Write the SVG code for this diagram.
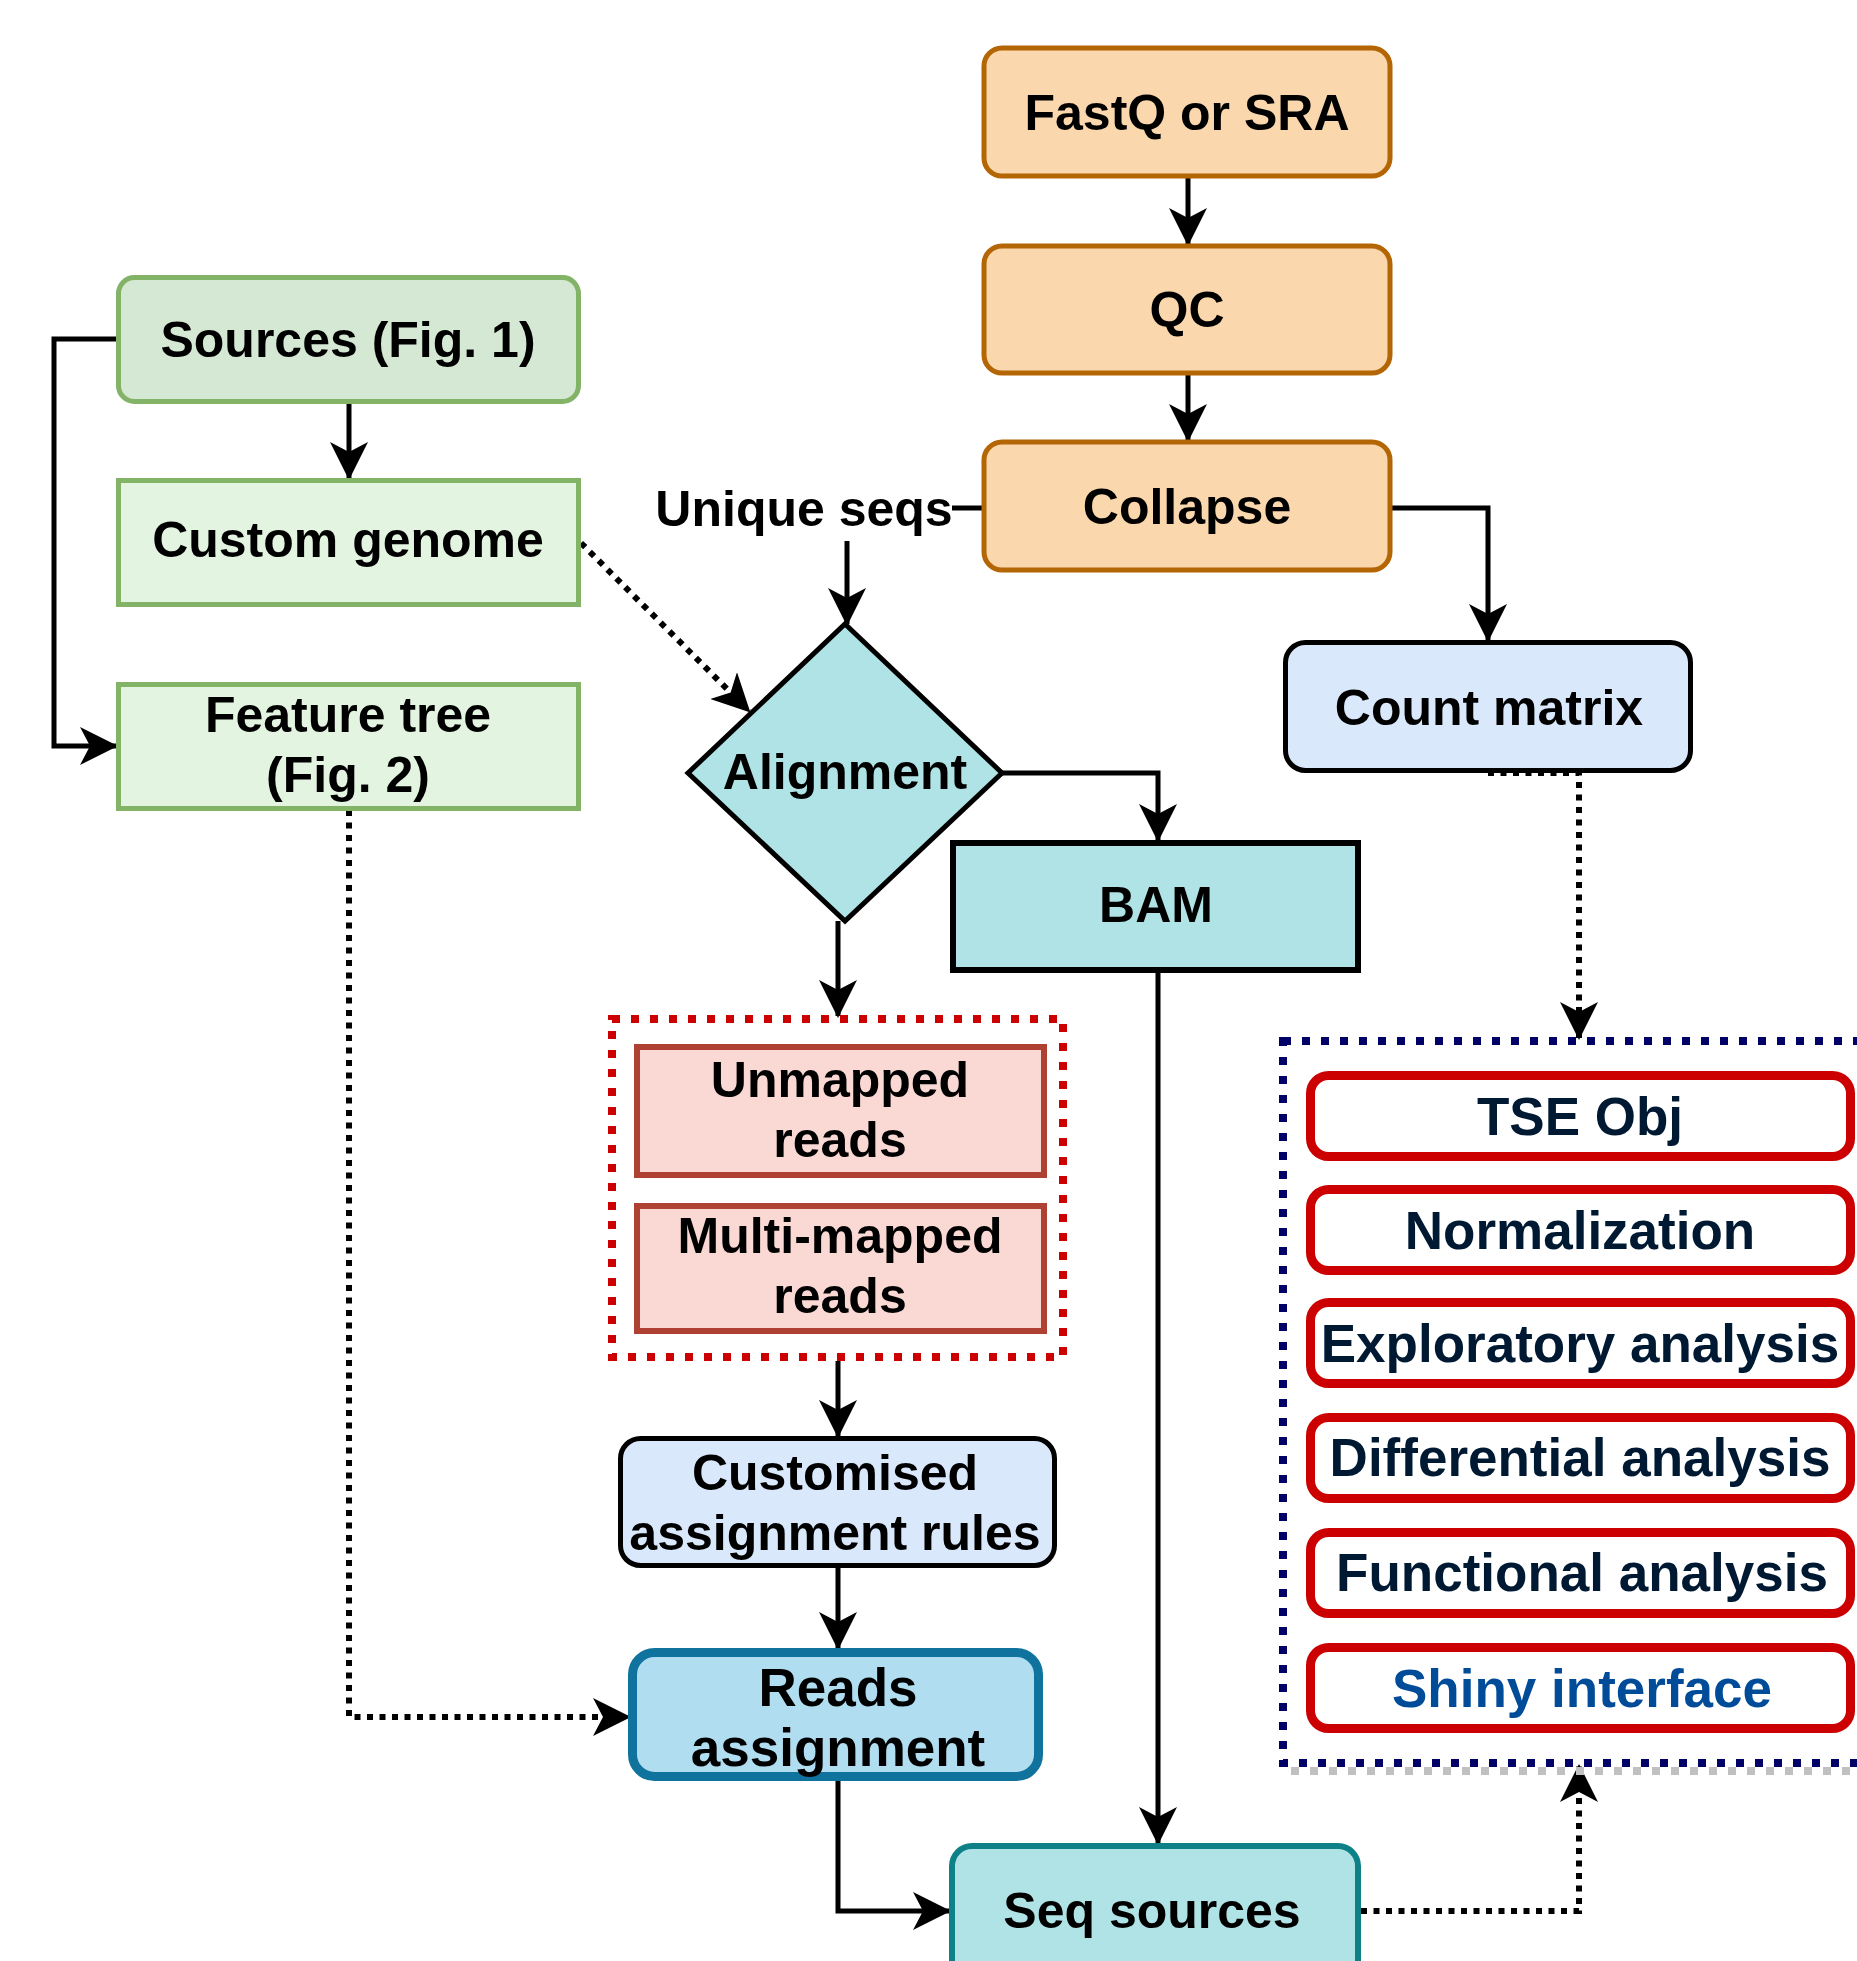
<svg xmlns="http://www.w3.org/2000/svg" width="1857" height="1961" viewBox="0 0 1857 1961">
<defs>
<style>
text{font-family:"Liberation Sans",Arial,Helvetica,sans-serif;font-weight:bold;font-size:50px;text-anchor:middle;fill:#000}
.orange{fill:#fad7ac;stroke:#b46504;stroke-width:5}
.green1{fill:#d5e8d4;stroke:#82b366;stroke-width:5}
.green2{fill:#e3f5e1;stroke:#82b366;stroke-width:5}
.teal{fill:#b0e3e6;stroke:#000;stroke-width:6}
.lblue{fill:#dae8fc;stroke:#000;stroke-width:5}
.pink{fill:#fad9d5;stroke:#ae4132;stroke-width:6}
.redbox{fill:#fff;stroke:#cc0000;stroke-width:9}
.rt{font-size:53px;fill:#001933}
.edge{fill:none;stroke:#000;stroke-width:5}
.dot{fill:none;stroke:#000;stroke-width:6;stroke-dasharray:6 6.5}
</style>
<marker id="arr" markerUnits="userSpaceOnUse" markerWidth="38" markerHeight="38" viewBox="0 0 38 38" refX="36" refY="19" orient="auto">
<path d="M0,0 L38,19 L0,38 L10,19 Z" fill="#000"/>
</marker>
</defs>

<g id="connectors">
<path class="edge" d="M1188,178 L1188,244" marker-end="url(#arr)"/>
<path class="edge" d="M1188,375 L1188,440" marker-end="url(#arr)"/>
<path class="edge" d="M1392,508 L1488,508 L1488,640" marker-end="url(#arr)"/>
<path class="edge" d="M982,508 L952,508"/>
<path class="edge" d="M847,541 L847,624" marker-end="url(#arr)"/>
<path class="dot" d="M581,543 L749,711" marker-end="url(#arr)"/>
<path class="edge" d="M349,404 L349,478" marker-end="url(#arr)"/>
<path class="edge" d="M116,339 L54,339 L54,746 L116,746" marker-end="url(#arr)"/>
<path class="dot" d="M349,810 L349,1717 L629,1717" marker-end="url(#arr)"/>
<path class="edge" d="M1002,773 L1158,773 L1158,840" marker-end="url(#arr)"/>
<path class="edge" d="M838,921 L838,1016" marker-end="url(#arr)"/>
<path class="edge" d="M838,1361 L838,1436" marker-end="url(#arr)"/>
<path class="edge" d="M838,1568 L838,1648" marker-end="url(#arr)"/>
<path class="edge" d="M838,1781 L838,1911 L949,1911" marker-end="url(#arr)"/>
<path class="edge" d="M1158,973 L1158,1843" marker-end="url(#arr)"/>
<path class="dot" d="M1488,773 L1579,773 L1579,1038" marker-end="url(#arr)"/>
<path class="dot" d="M1361,1911 L1579,1911 L1579,1766" marker-end="url(#arr)"/>
</g>

<g id="fastq"><rect class="orange" x="984" y="48" width="406" height="128" rx="18"/><text x="1187" y="130">FastQ or SRA</text></g>
<g id="qc"><rect class="orange" x="984" y="246" width="406" height="127" rx="18"/><text x="1187" y="327">QC</text></g>
<g id="collapse"><rect class="orange" x="984" y="442" width="406" height="128" rx="18"/><text x="1187" y="524">Collapse</text></g>

<g id="unique-seqs"><text x="804" y="526">Unique seqs</text></g>

<g id="sources"><rect class="green1" x="118.5" y="277.5" width="460" height="124" rx="16"/><text x="348" y="357">Sources (Fig. 1)</text></g>
<g id="custom-genome"><rect class="green2" x="118.5" y="480.5" width="460" height="124"/><text x="348" y="557">Custom genome</text></g>
<g id="feature-tree"><rect class="green2" x="118.5" y="684.5" width="460" height="124"/><text x="348" y="732">Feature tree</text><text x="348" y="792">(Fig. 2)</text></g>

<g id="alignment"><polygon points="845,624 1002,773 845,921 688,773" fill="#b0e3e6" stroke="#000" stroke-width="5"/><text x="845" y="789">Alignment</text></g>

<g id="bam"><rect class="teal" x="953" y="843" width="405" height="127"/><text x="1156" y="922">BAM</text></g>

<g id="count-matrix"><rect class="lblue" x="1285.5" y="642.5" width="405" height="128" rx="20"/><text x="1489" y="725">Count matrix</text></g>

<g id="unmapped-group">
<rect x="612" y="1019" width="451" height="338" fill="none" stroke="#cc0000" stroke-width="8" stroke-dasharray="8 11"/>
<g id="unmapped"><rect class="pink" x="637" y="1047" width="407" height="128"/><text x="840" y="1097">Unmapped</text><text x="840" y="1157">reads</text></g>
<g id="multimapped"><rect class="pink" x="637" y="1206" width="407" height="125"/><text x="840" y="1253">Multi-mapped</text><text x="840" y="1313">reads</text></g>
</g>

<g id="customised"><rect class="lblue" x="620.5" y="1438.5" width="434" height="127" rx="20"/><text x="835" y="1490">Customised</text><text x="835" y="1550">assignment rules</text></g>

<g id="reads-assignment"><rect x="632.5" y="1652.5" width="406" height="124" rx="22" fill="#b1ddf0" stroke="#10739e" stroke-width="9"/><text x="838" y="1706" style="font-size:53px">Reads</text><text x="838" y="1766" style="font-size:53px">assignment</text></g>

<g id="seq-sources"><rect x="952" y="1846" width="406" height="200" rx="20" fill="#b0e3e6" stroke="#0e8088" stroke-width="6"/><text x="1152" y="1928">Seq sources</text></g>

<g id="analysis-group">
<line x1="1291" y1="1771" x2="1870" y2="1771" stroke="#c0c0c0" stroke-width="8" stroke-dasharray="8 11"/>
<rect x="1283" y="1041" width="620" height="722" fill="none" stroke="#000066" stroke-width="8" stroke-dasharray="8 11"/>
<g id="tse"><rect class="redbox" x="1310.5" y="1075.5" width="540" height="81" rx="18"/><text class="rt" x="1580" y="1135">TSE Obj</text></g>
<g id="normalization"><rect class="redbox" x="1310.5" y="1189.5" width="540" height="81" rx="18"/><text class="rt" x="1580" y="1249">Normalization</text></g>
<g id="exploratory"><rect class="redbox" x="1310.5" y="1302.5" width="540" height="81" rx="18"/><text class="rt" x="1580" y="1362">Exploratory analysis</text></g>
<g id="differential"><rect class="redbox" x="1310.5" y="1417.5" width="540" height="81" rx="18"/><text class="rt" x="1580" y="1476">Differential analysis</text></g>
<g id="functional"><rect class="redbox" x="1310.5" y="1532.5" width="540" height="81" rx="18"/><text class="rt" x="1582" y="1591">Functional analysis</text></g>
<g id="shiny"><rect class="redbox" x="1310.5" y="1647.5" width="540" height="81" rx="18"/><text class="rt" x="1582" y="1707" style="fill:#004c99">Shiny interface</text></g>
</g>
</svg>
